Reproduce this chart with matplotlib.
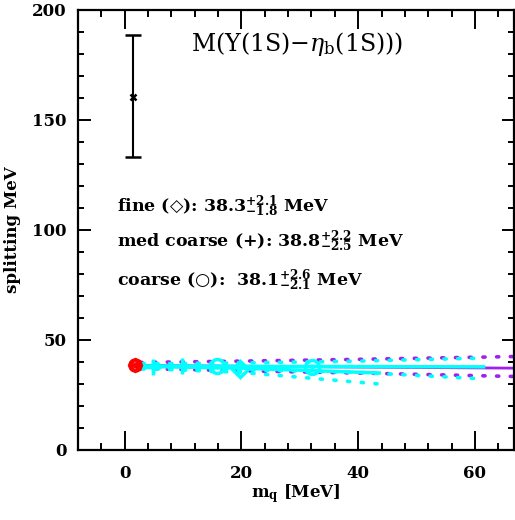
import matplotlib
matplotlib.use("Agg")
import matplotlib.pyplot as plt
from matplotlib.ticker import MultipleLocator

plt.rcParams['font.family'] = ['DejaVu Serif', 'DejaVu Sans']
plt.rcParams['mathtext.fontset'] = 'dejavuserif'

# ---- data ----
# experimental value (top-left error bar)
exp_mq = [1.4]
exp_val = [160.5]
exp_lo = [27.5]
exp_hi = [28.1]

# extrapolated (chiral) points, red
chi_mq = [1.7]
chi_val = [38.5]

# lattice points (cyan)
medc_mq = [4.8, 9.9]
medc_val = [37.9, 38.0]
medc_err = [2.8, 1.2]
coarse_mq = [15.9, 32.1]
coarse_val = [38.0, 37.7]
coarse_err = [1.0, 1.2]
fine_mq = [19.8]
fine_val = [36.8]
fine_err = [1.0]

# purple fit with band
pfit_mq = [2.6, 20.0, 40.0, 67.0]
pfit_c = [38.4, 38.1, 37.7, 37.2]
pfit_hi = [39.8, 40.4, 41.2, 42.5]
pfit_lo = [37.0, 36.0, 35.0, 33.4]

# cyan long fit with band
cl_mq = [3.0, 20.0, 40.0, 61.5]
cl_c = [38.2, 38.0, 37.9, 37.8]
cl_hi = [39.2, 39.6, 40.4, 41.8]
cl_lo = [37.0, 36.5, 35.3, 32.3]

# cyan short fit with band
cs_mq = [3.0, 20.0, 43.6]
cs_c = [38.0, 37.2, 35.0]
cs_lo = [37.0, 35.3, 30.0]

fig = plt.figure(figsize=(5.15, 5.2), dpi=100)
ax = fig.add_axes([78/515, 1-450/520, (514-78)/515, 440/520])

purple = '#a020f0'
cyan = '#00ffff'
dot = (0, (0.6, 3.2))

ax.plot(pfit_mq, pfit_c, color=purple, lw=2)
ax.plot(pfit_mq, pfit_hi, color=purple, lw=2.6, ls=dot, dash_capstyle='round')
ax.plot(pfit_mq, pfit_lo, color=purple, lw=2.6, ls=dot, dash_capstyle='round')

ax.plot(cl_mq, cl_c, color=cyan, lw=2.5)
ax.plot(cl_mq, cl_hi, color=cyan, lw=2.6, ls=dot, dash_capstyle='round')
ax.plot(cl_mq, cl_lo, color=cyan, lw=2.6, ls=dot, dash_capstyle='round')

ax.plot(cs_mq, cs_c, color=cyan, lw=2.5)
ax.plot(cs_mq, cs_lo, color=cyan, lw=2.6, ls=dot, dash_capstyle='round')

ax.errorbar(medc_mq, medc_val, yerr=medc_err, fmt='+', color=cyan, ms=11, mew=2.5, elinewidth=2.5, capsize=0)
ax.errorbar(coarse_mq, coarse_val, yerr=coarse_err, fmt='o', color=cyan, mfc='none', ms=10, mew=2.5, elinewidth=2.5, capsize=0)
ax.errorbar(fine_mq, fine_val, yerr=fine_err, fmt='D', color=cyan, mfc='none', ms=8, mew=2.5, elinewidth=2.5, capsize=0)

ax.plot(chi_mq, chi_val, 'o', color='red', mfc='none', ms=8, mew=2.5)
ax.plot(chi_mq, chi_val, 'D', color='red', mfc='none', ms=6, mew=2.0)
ax.plot(chi_mq, chi_val, '<', color='red', ms=7)

ax.errorbar(exp_mq, exp_val, yerr=[exp_lo, exp_hi], fmt='x', color='black', ms=5, mew=1.8,
            elinewidth=1.5, capsize=6, capthick=1.5)

ax.set_xlim(-8, 66.7)
ax.set_ylim(0, 200)
ax.xaxis.set_major_locator(MultipleLocator(20))
ax.xaxis.set_minor_locator(MultipleLocator(4))
ax.yaxis.set_major_locator(MultipleLocator(50))
ax.yaxis.set_minor_locator(MultipleLocator(10))
ax.tick_params(axis='both', which='both', direction='in', top=True, right=True, width=1.4)
ax.tick_params(axis='x', which='major', length=14, pad=11)
ax.tick_params(axis='x', which='minor', length=5)
ax.tick_params(axis='y', which='major', length=9, pad=8)
ax.tick_params(axis='y', which='minor', length=4.5)
for lab in ax.get_xticklabels() + ax.get_yticklabels():
    lab.set_fontweight('bold')
    lab.set_fontsize(12)
for s in ax.spines.values():
    s.set_linewidth(1.6)

ax.set_xlabel(r'$\mathbf{m_q}$ [MeV]', fontsize=12, fontweight='bold', labelpad=0)
ax.set_ylabel('splitting MeV', fontsize=12, fontweight='bold', labelpad=8)

ax.text(29.5, 184.5, r'M($\Upsilon$(1S)$-\eta_{\rm b}$(1S)))', fontsize=17,
        family='DejaVu Serif', ha='center', va='center')

ax.text(-1.4, 110.5, 'fine (\u25c7): ' + r'$\mathbf{38.3^{+2.1}_{-1.8}}$' + ' MeV', fontsize=12.5,
        fontweight='bold', va='center')
ax.text(-1.4, 94.5, r'med coarse (+): $\mathbf{38.8^{+2.2}_{-2.5}}$ MeV', fontsize=12.5,
        fontweight='bold', va='center')
ax.text(-1.4, 77.0, 'coarse (\u25cb):  ' + r'$\mathbf{38.1^{+2.6}_{-2.1}}$' + ' MeV', fontsize=12.5,
        fontweight='bold', va='center')

fig.savefig('out.png', dpi=100)
